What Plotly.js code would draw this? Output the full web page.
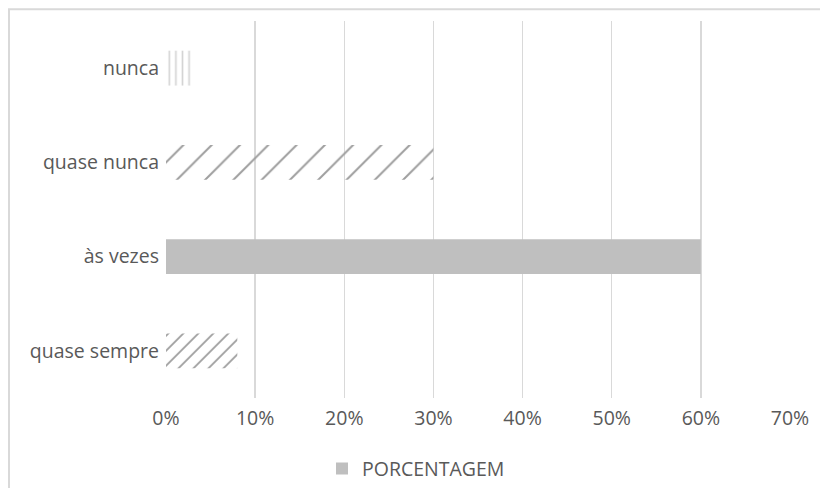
<!DOCTYPE html>
<html>
<head>
<meta charset="utf-8">
<script src="https://cdn.plot.ly/plotly-3.0.1.min.js"></script>
<style>html,body{margin:0;padding:0;background:#fff;}#chart{width:820px;height:488px;}</style>
</head>
<body>
<div id="chart"></div>
<script>
// Data
const categories = ["nunca", "quase nunca", "às vezes", "quase sempre"];
const percentages = [3, 30, 60, 8];
const seriesName = "PORCENTAGEM";
const tickValues = [0, 10, 20, 30, 40, 50, 60, 70];
const tickLabels = ["0%", "10%", "20%", "30%", "40%", "50%", "60%", "70%"];

// Styles per bar
const patternShapes = ["|", "/", "", "/"];
const patternSizes = [6.6, 20, 8, 10.6];
const patternSolidity = [0.25, 0.1, 0.3, 0.17];
const barColors = ["#d4d4d4", "#9e9e9e", "#bfbfbf", "#9e9e9e"];

const font = {family: "Open Sans, sans-serif", size: 19.5, color: "#595959"};

const traces = [
  {
    type: "bar",
    orientation: "h",
    y: categories,
    x: percentages,
    showlegend: false,
    hoverinfo: "skip",
    marker: {
      color: barColors,
      line: {width: 0},
      pattern: {
        shape: patternShapes,
        size: patternSizes,
        solidity: patternSolidity,
        fgcolor: barColors,
        bgcolor: "#ffffff",
        fillmode: "replace"
      }
    }
  },
  {
    type: "bar",
    orientation: "h",
    y: [categories[2]],
    x: [0],
    name: seriesName,
    showlegend: true,
    hoverinfo: "skip",
    marker: {color: "#bfbfbf", line: {width: 0}}
  }
];

const layout = {
  width: 820,
  height: 488,
  margin: {l: 166, r: 30, t: 21, b: 90, autoexpand: false},
  paper_bgcolor: "#ffffff",
  plot_bgcolor: "#ffffff",
  font: font,
  barmode: "overlay",
  bargap: 0.63,
  xaxis: {
    range: [0, 70],
    tickvals: tickValues,
    ticktext: tickLabels,
    showgrid: true,
    gridcolor: "#d9d9d9",
    gridwidth: 1.5,
    zeroline: false,
    showline: false,
    ticks: "",
    tickfont: font,
    ticklabelstandoff: 6,
    automargin: false,
    fixedrange: true
  },
  yaxis: {
    type: "category",
    categoryorder: "array",
    categoryarray: categories,
    autorange: "reversed",
    showgrid: false,
    zeroline: false,
    showline: false,
    ticks: "",
    tickfont: font,
    ticklabelstandoff: 6,
    automargin: false,
    fixedrange: true
  },
  showlegend: true,
  legend: {
    orientation: "h",
    x: 0.25,
    xanchor: "left",
    y: -0.188,
    yanchor: "middle",
    font: font,
    itemwidth: 30,
    bgcolor: "rgba(0,0,0,0)"
  },
  shapes: [
    {
      type: "rect",
      xref: "paper",
      yref: "paper",
      x0: -0.2516,
      x1: 1.06,
      y0: -0.26,
      y1: 1.031,
      line: {color: "#d9d9d9", width: 2},
      fillcolor: "rgba(0,0,0,0)",
      layer: "below"
    }
  ]
};

Plotly.newPlot("chart", traces, layout, {displayModeBar: false, staticPlot: true});
</script>
</body>
</html>
